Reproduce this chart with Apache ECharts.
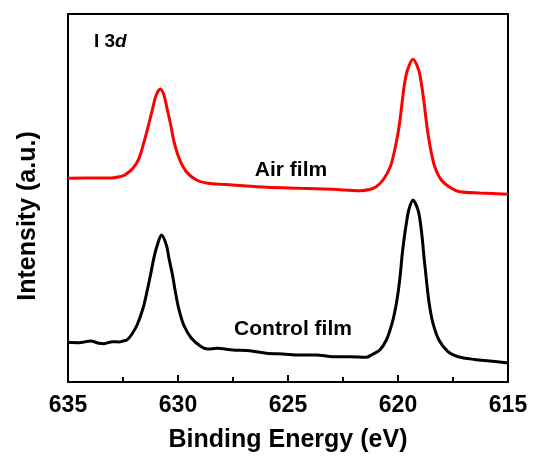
<!DOCTYPE html>
<html>
<head>
<meta charset="utf-8">
<script src="https://cdn.jsdelivr.net/npm/echarts@6/dist/echarts.min.js"></script>
<style>html,body{margin:0;padding:0;background:#fff}#c{width:536px;height:459px}</style>
</head>
<body>
<div id="c"></div>
<script>
// Binding energy (eV) and intensity (a.u.)
const airEnergy = [635.00, 633.56, 633.00, 632.65, 632.42, 632.05, 631.77, 631.54, 631.34, 631.15, 630.99, 630.80, 630.64, 630.50, 630.33, 630.18, 629.95, 629.62, 629.16, 628.64, 627.51, 625.97, 624.47, 622.97, 621.74, 621.29, 621.01, 620.68, 620.35, 620.15, 620.00, 619.89, 619.80, 619.70, 619.57, 619.32, 619.06, 618.94, 618.83, 618.74, 618.64, 618.51, 618.33, 618.03, 617.57, 617.20, 616.29, 615.00];
const airIntensity = [203.7, 204.0, 204.0, 205.3, 207.0, 213.7, 223.7, 240.3, 257.0, 273.7, 287.0, 293.0, 287.0, 273.7, 257.0, 240.3, 223.7, 210.3, 202.0, 198.7, 197.0, 194.7, 193.7, 192.7, 191.3, 192.5, 195.0, 202.0, 215.3, 232.0, 248.7, 265.3, 282.0, 298.7, 312.0, 322.7, 312.0, 298.7, 282.0, 265.3, 248.7, 232.0, 215.3, 202.0, 193.7, 190.3, 189.0, 187.7];

const controlEnergy = [635.00, 634.50, 633.97, 633.59, 633.36, 632.98, 632.68, 632.50, 632.33, 632.12, 631.86, 631.59, 631.41, 631.25, 631.10, 630.94, 630.75, 630.53, 630.41, 630.25, 630.12, 629.97, 629.74, 629.39, 628.94, 628.64, 628.25, 627.50, 626.74, 625.98, 625.23, 624.47, 623.71, 622.95, 622.20, 621.44, 621.21, 620.83, 620.53, 620.27, 620.10, 619.98, 619.89, 619.82, 619.73, 619.62, 619.51, 619.32, 619.09, 618.98, 618.89, 618.82, 618.74, 618.66, 618.56, 618.41, 618.14, 617.73, 617.27, 616.51, 615.83, 615.00];
const controlIntensity = [39.7, 39.3, 41.0, 38.7, 38.3, 40.3, 40.0, 41.0, 42.0, 47.0, 57.0, 73.7, 90.3, 107.0, 123.7, 137.0, 147.0, 137.0, 123.7, 107.0, 90.3, 73.7, 57.0, 43.7, 35.3, 33.0, 33.7, 32.0, 31.3, 28.7, 28.0, 27.0, 27.0, 25.3, 25.3, 24.7, 27.0, 32.0, 42.0, 58.7, 75.3, 92.0, 108.7, 125.3, 142.0, 158.7, 172.0, 182.0, 172.0, 158.7, 142.0, 125.3, 108.7, 92.0, 75.3, 58.7, 42.0, 30.3, 25.3, 22.5, 21.0, 19.0];

const xTicks = [635, 630, 625, 620, 615];

const FONT = '"Liberation Sans", Arial, sans-serif';
const pair = (xs, ys) => xs.map((x, i) => [x, ys[i]]);

const chart = echarts.init(document.getElementById('c'), null, {renderer: 'canvas'});
chart.setOption({
  animation: false,
  backgroundColor: '#ffffff',
  grid: {left: 68, right: 28, top: 14, bottom: 77},
  title: {
    text: '{a|I 3}{b|d}',
    left: 89, top: 27,
    textStyle: {
      rich: {
        a: {fontFamily: FONT, fontWeight: 'bold', fontSize: 19, color: '#000'},
        b: {fontFamily: FONT, fontWeight: 'bold', fontStyle: 'italic', fontSize: 19, color: '#000'}
      }
    }
  },
  xAxis: [{
    type: 'value', inverse: true, min: 615, max: 635, interval: 5,
    position: 'bottom',
    name: 'Binding Energy (eV)', nameLocation: 'middle', nameGap: 46,
    nameTextStyle: {fontFamily: FONT, fontWeight: 'bold', fontSize: 25, color: '#000'},
    axisLine: {show: true, onZero: false, lineStyle: {color: '#000', width: 2}},
    axisTick: {show: true, inside: true, length: 7, lineStyle: {color: '#000', width: 2}},
    minorTick: {show: true, splitNumber: 2, length: 5, lineStyle: {color: '#000', width: 2}},
    splitLine: {show: false},
    axisLabel: {
      margin: 12, fontFamily: FONT, fontWeight: 'bold', fontSize: 23, color: '#000',
      formatter: v => xTicks.includes(v) ? String(v) : ''
    }
  }, {
    type: 'value', inverse: true, min: 615, max: 635, position: 'top',
    axisLine: {show: true, onZero: false, lineStyle: {color: '#000', width: 2}},
    axisTick: {show: false}, axisLabel: {show: false}, splitLine: {show: false}
  }],
  yAxis: [{
    type: 'value', min: 0, max: 368,
    axisLine: {show: true, onZero: false, lineStyle: {color: '#000', width: 2}},
    axisTick: {show: false}, axisLabel: {show: false}, splitLine: {show: false}
  }, {
    type: 'value', min: 0, max: 368, position: 'right',
    axisLine: {show: true, onZero: false, lineStyle: {color: '#000', width: 2}},
    axisTick: {show: false}, axisLabel: {show: false}, splitLine: {show: false}
  }],
  series: [{
    name: 'Air film', type: 'line', data: pair(airEnergy, airIntensity),
    showSymbol: false, smooth: 0.3,
    lineStyle: {color: '#ff0000', width: 3}, itemStyle: {color: '#ff0000'}
  }, {
    name: 'Control film', type: 'line', data: pair(controlEnergy, controlIntensity),
    showSymbol: false, smooth: 0.3,
    lineStyle: {color: '#000000', width: 3}, itemStyle: {color: '#000000'}
  }],
  graphic: [{
    type: 'text', x: 291, y: 170,
    style: {text: 'Air film', fontFamily: FONT, fontWeight: 'bold', fontSize: 21, fill: '#000',
            align: 'center', verticalAlign: 'middle'}
  }, {
    type: 'text', x: 293, y: 329,
    style: {text: 'Control film', fontFamily: FONT, fontWeight: 'bold', fontSize: 21, fill: '#000',
            align: 'center', verticalAlign: 'middle'}
  }, {
    type: 'text', x: 28, y: 216, rotation: Math.PI / 2,
    style: {text: 'Intensity (a.u.)', fontFamily: FONT, fontWeight: 'bold', fontSize: 25, fill: '#000',
            align: 'center', verticalAlign: 'middle'}
  }]
});
</script>
</body>
</html>
